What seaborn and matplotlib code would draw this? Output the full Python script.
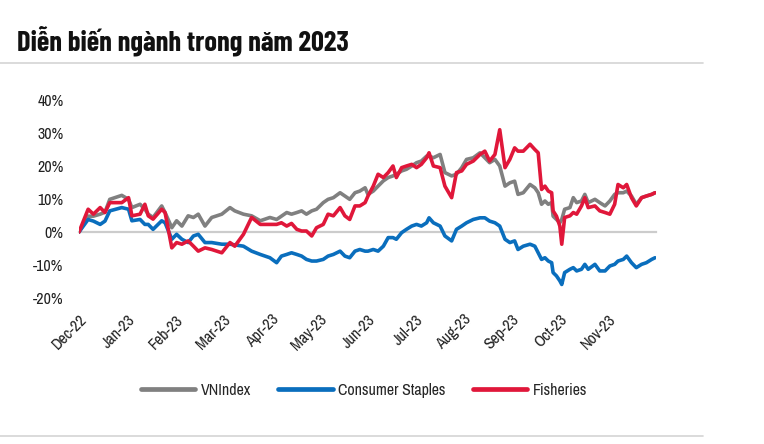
import matplotlib
matplotlib.use("Agg")
import matplotlib.pyplot as plt
import pandas as pd
import seaborn as sns
from matplotlib.lines import Line2D
from matplotlib.ticker import FuncFormatter

# x positions in months since end of Dec-2022
months = [0.00, 0.19, 0.30, 0.44, 0.54, 0.64, 0.89, 1.03, 1.10, 1.27,
          1.37, 1.44, 1.54, 1.72, 1.79, 1.93, 2.03, 2.14, 2.27, 2.38,
          2.48, 2.62, 2.76, 2.97, 3.14, 3.24, 3.42, 3.59, 3.77, 3.97,
          4.11, 4.21, 4.32, 4.42, 4.53, 4.63, 4.73, 4.84, 4.94, 5.08,
          5.18, 5.29, 5.43, 5.53, 5.63, 5.74, 5.84, 5.95, 6.01, 6.12,
          6.22, 6.33, 6.43, 6.53, 6.60, 6.71, 6.81, 6.92, 7.02, 7.12,
          7.23, 7.28, 7.37, 7.51, 7.61, 7.75, 7.85, 7.96, 8.06, 8.20,
          8.34, 8.44, 8.54, 8.65, 8.75,
          8.86, 8.96, 9.06, 9.13, 9.24, 9.38, 9.48, 9.55, 9.62, 9.69,
          9.76, 9.83, 9.86, 9.93, 10.00, 10.04, 10.10, 10.21, 10.28, 10.35,
          10.45, 10.52, 10.59, 10.73, 10.83, 10.94, 11.04, 11.14, 11.21, 11.32,
          11.39, 11.49, 11.59, 11.70, 11.80, 11.91, 11.98]

vnindex = [0, 4.8, 4.8, 5.4, 6.0, 9.9, 11.1, 9.9, 7.4, 8.4,
           6.9, 5.4, 4.4, 7.9, 5.9, 1.3, 3.4, 1.8, 4.9, 4.4,
           5.4, 1.8, 4.4, 5.4, 7.4, 6.4, 5.4, 4.9, 3.4, 4.4,
           3.8, 4.8, 5.9, 5.4, 5.9, 6.4, 5.4, 6.4, 6.9, 8.9,
           9.9, 10.4, 11.9, 10.9, 9.9, 11.9, 12.4, 13.4, 11.4, 12.4,
           13.9, 15.5, 16.5, 17.0, 17.5, 18.5, 19.0, 20.0, 21.0, 21.5,
           23.0, 23.0, 22.5, 23.5, 18.0, 17.0, 17.5, 19.5, 22.0, 22.5,
           24.0, 22.5, 21.0, 22.0, 20.0,
           13.9, 14.9, 15.4, 11.4, 11.9, 14.4, 13.4, 11.9, 8.4, 9.4,
           8.4, 8.9, 4.8, 3.8, 2.8, 3.8, 6.9, 7.4, 10.4, 8.9,
           9.4, 11.4, 8.9, 9.9, 8.9, 7.9, 9.4, 11.4, 11.9, 11.9,
           12.4, 10.9, 8.4, 10.4, 10.9, 11.4, 11.9]

consumer_staples = [0, 3.8, 3.3, 2.3, 3.3, 6.4, 7.4, 6.9, 3.4, 3.8,
                    2.3, 2.3, 0.8, 3.4, 2.8, -2.2, -0.7, -2.2, -3.2, -1.2,
                    -0.7, -3.2, -3.2, -3.7, -3.7, -3.9, -4.3, -5.8, -6.8, -7.8,
                    -9.3, -7.3, -6.8, -6.3, -6.8, -7.3, -8.3, -8.8, -8.8, -8.3,
                    -7.3, -6.8, -5.8, -7.3, -7.8, -5.8, -5.3, -5.8, -5.8, -5.3,
                    -5.8, -4.3, -1.7, -1.7, -2.2, -0.2, 0.8, 1.8, 2.3, 1.8,
                    2.8, 4.3, 2.8, 1.8, -1.2, -2.7, 0.8, 1.8, 2.8, 3.8,
                    4.3, 4.3, 3.3, 2.8, 1.8,
                    -2.2, -3.2, -2.7, -5.3, -4.3, -3.7, -4.3, -6.3, -8.3, -7.8,
                    -8.8, -9.3, -12.3, -13.3, -14.8, -15.9, -12.3, -11.3, -10.8, -11.8,
                    -11.3, -9.8, -11.3, -9.8, -11.8, -11.8, -10.3, -9.8, -8.8, -8.3,
                    -7.3, -9.3, -10.8, -9.8, -9.3, -8.3, -7.8]

fisheries = [0, 6.9, 5.4, 7.4, 5.9, 8.9, 8.9, 10.4, 4.9, 5.4,
             8.4, 4.9, 3.9, 6.9, 5.9, -4.8, -3.2, -3.7, -2.7, -4.3,
             -5.8, -4.8, -5.3, -6.3, -3.2, -4.3, -0.7, 4.4, 2.3, 2.3,
             2.3, 2.8, 1.8, 2.6, 0.8, 0.3, 0.3, -1.2, 1.3, 2.3,
             5.4, 4.9, 7.4, 4.9, 3.8, 7.9, 7.9, 8.9, 10.9, 13.9,
             17.5, 16.5, 18.0, 20.0, 16.5, 19.5, 20.0, 20.5, 19.5, 20.5,
             22.5, 24.0, 20.0, 19.5, 13.9, 10.4, 18.0, 18.5, 20.5, 21.5,
             23.5, 24.5, 21.5, 23.5, 31.0,
             19.5, 22.0, 25.5, 24.5, 24.5, 26.6, 25.0, 24.0, 12.9, 13.9,
             12.4, 11.9, 6.4, 4.8, 1.8, -3.7, 4.4, 4.9, 5.9, 5.4,
             7.9, 10.4, 7.4, 7.9, 6.4, 5.9, 5.4, 8.4, 14.4, 13.4,
             14.4, 10.4, 7.9, 10.4, 10.9, 11.4, 11.9]

month_labels = ["Dec-22", "Jan-23", "Feb-23", "Mar-23", "Apr-23", "May-23",
                "Jun-23", "Jul-23", "Aug-23", "Sep-23", "Oct-23", "Nov-23"]
series_names = ["VNIndex", "Consumer Staples", "Fisheries"]
y_ticks = [-20, -10, 0, 10, 20, 30, 40]
title = "Diễn biến ngành trong năm 2023"

colors = ["#808080", "#0A6EBD", "#E0173A"]

df = pd.concat([
    pd.DataFrame({"t": months, "v": vals, "series": name})
    for name, vals in zip(series_names, [vnindex, consumer_staples, fisheries])
], ignore_index=True)

sns.set_style("white")
plt.rcParams["font.family"] = ["Liberation Sans Narrow", "Archivo Narrow", "DejaVu Sans"]

W, H = 764, 444
fig = plt.figure(figsize=(W / 100, H / 100), dpi=100)
ax = fig.add_axes([79 / W, 1 - 298 / H, 577 / W, 198 / H])

sns.lineplot(data=df, x="t", y="v", hue="series", hue_order=series_names,
             palette=dict(zip(series_names, colors)), linewidth=2.6,
             estimator=None, legend=False, ax=ax)

ax.set_xlim(0, 12)
ax.set_ylim(-20, 40)
ax.set_xlabel("")
ax.set_ylabel("")
ax.set_yticks(y_ticks)
ax.yaxis.set_major_formatter(FuncFormatter(lambda v, p: f"{v:.0f}%"))
ax.tick_params(axis="y", length=0, pad=11, labelsize=11.5, labelcolor="#222222")

for s in ["top", "right", "left"]:
    ax.spines[s].set_visible(False)
ax.spines["bottom"].set_position(("data", 0))
ax.spines["bottom"].set_color("#cccccc")
ax.spines["bottom"].set_linewidth(1.6)
ax.spines["bottom"].set_zorder(1)
ax.set_xticks(range(len(month_labels)))
ax.tick_params(axis="x", length=3, width=1, color="#cccccc", labelbottom=False)

sec = ax.secondary_xaxis(0)
sec.set_xticks(range(len(month_labels)))
sec.set_xticklabels(month_labels, rotation=45, ha="right", rotation_mode="anchor",
                    fontsize=11.5, color="#222222")
sec.tick_params(axis="x", length=0, pad=10)
sec.spines["bottom"].set_visible(False)

fig.text(17 / W, 1 - 50 / H, title, fontsize=20.5, fontweight="bold",
         family=["Barlow Condensed", "DejaVu Sans"],
         va="baseline", ha="left", color="#111111")
fig.add_artist(Line2D([0, 703 / W], [1 - 63 / H] * 2, color="#d4d4d4", lw=1.2))
fig.add_artist(Line2D([0, 703 / W], [1 - 436 / H] * 2, color="#d4d4d4", lw=1.2))

handles = [Line2D([], [], color=c, lw=3.4) for c in colors]
fig.legend(handles, series_names, loc="center", bbox_to_anchor=(364 / W, 1 - 390 / H),
           ncol=3, frameon=False, handlelength=3.4, handletextpad=0.35,
           columnspacing=1.7, fontsize=11.5)

fig.savefig("out.png", dpi=100)
